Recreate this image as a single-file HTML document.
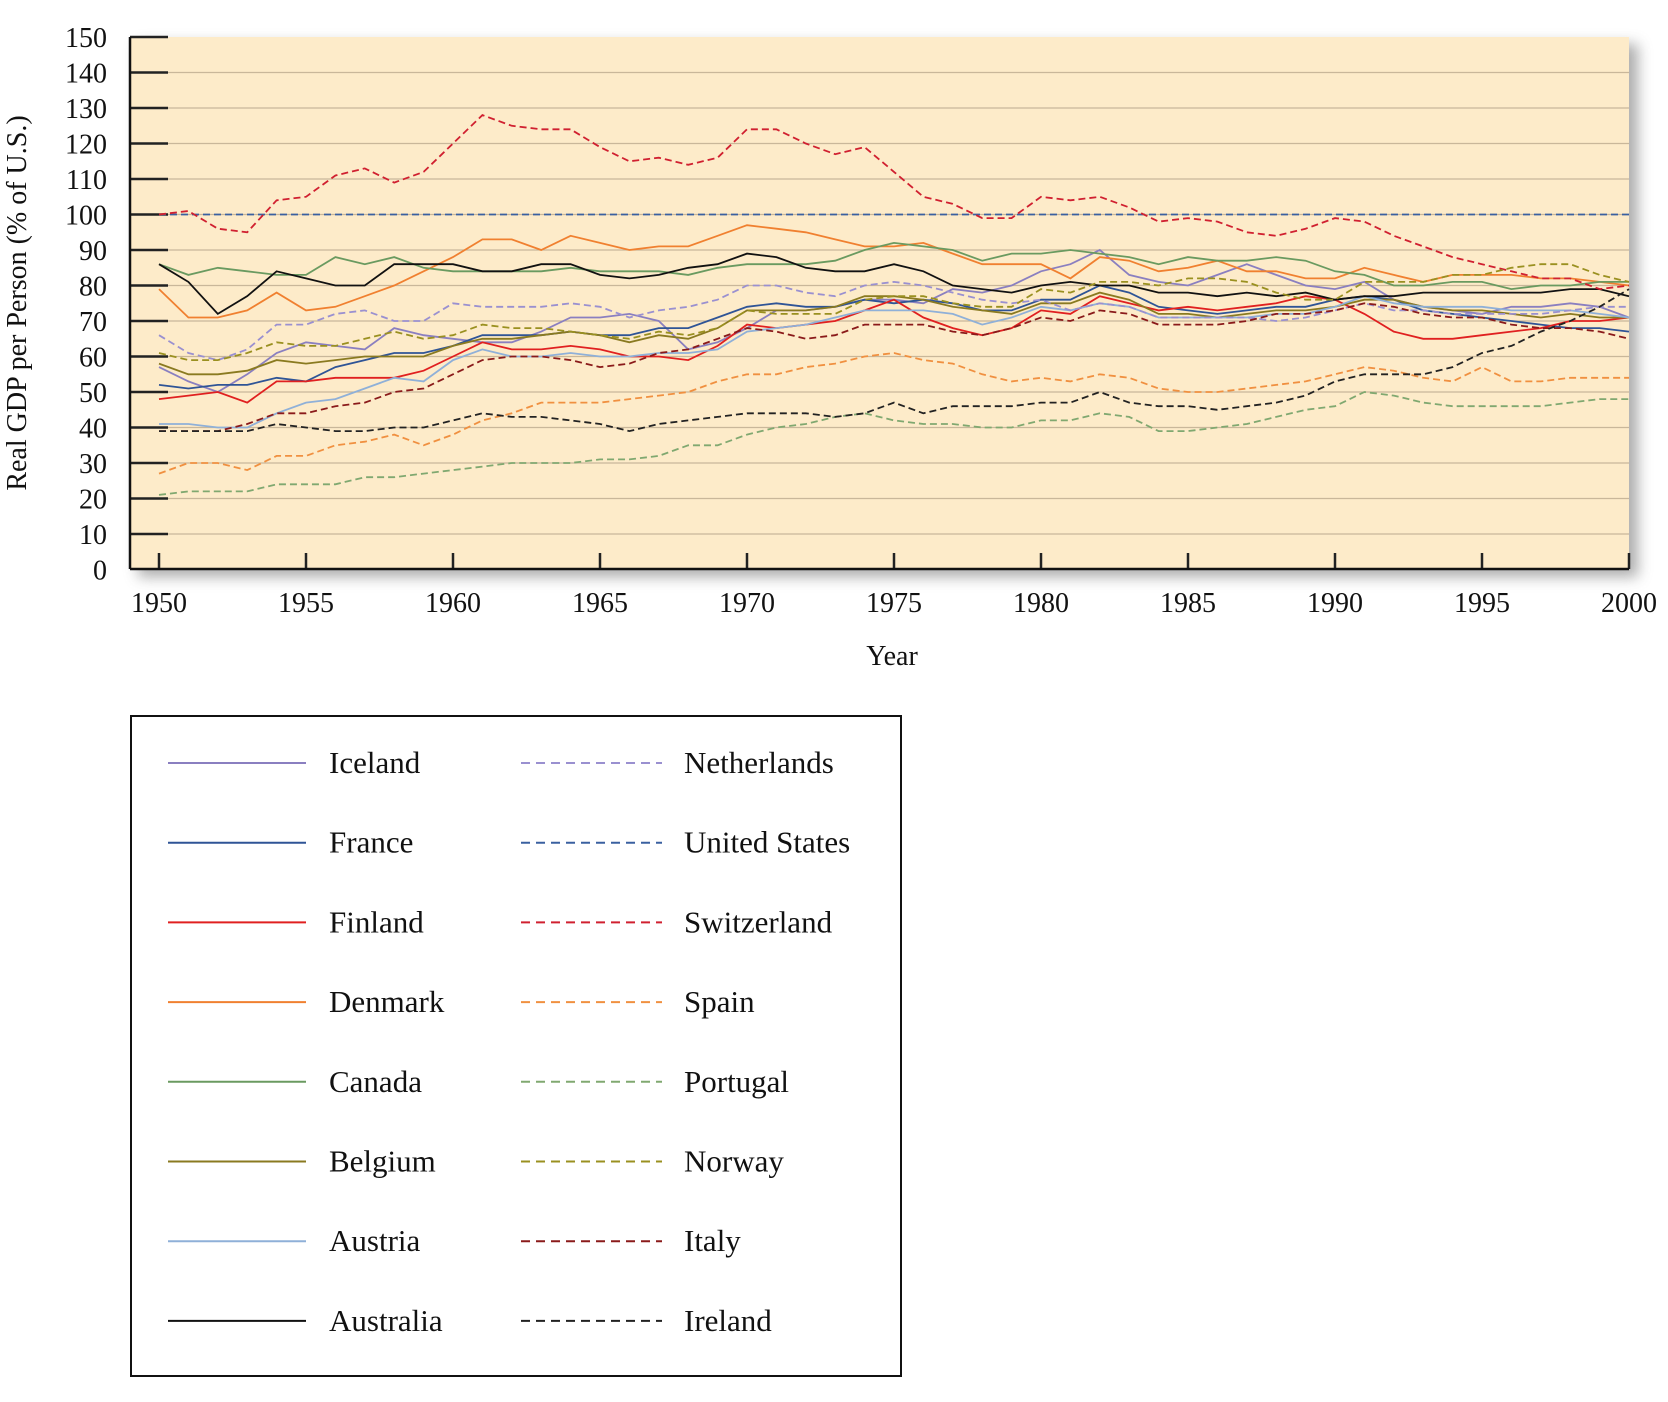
<!DOCTYPE html>
<html><head><meta charset="utf-8"><style>
html,body{margin:0;padding:0;background:#fff;}
body{width:1668px;height:1397px;overflow:hidden;}
svg text{font-family:"Liberation Serif",serif;fill:#111;}
</style></head><body>
<svg id="s" width="1668" height="1397" xmlns="http://www.w3.org/2000/svg">
<defs><filter id="sh" x="-5%" y="-5%" width="115%" height="120%"><feGaussianBlur stdDeviation="7"/></filter></defs>
<rect x="138" y="44" width="1500" height="533" fill="#777" opacity="0.6" filter="url(#sh)"/>
<rect x="130" y="37" width="1499" height="532" fill="#fdebc9"/>
<g id="grid"></g>
<g id="series"></g>
<line x1="130" y1="37" x2="130" y2="569" stroke="#111" stroke-width="2.5"/>
<line x1="130" y1="569" x2="1629" y2="569" stroke="#111" stroke-width="2.5"/>
<text transform="translate(26,303) rotate(-90)" font-size="28" text-anchor="middle">Real GDP per Person (% of U.S.)</text>
<text x="892" y="665" font-size="28" text-anchor="middle">Year</text>
<rect x="131" y="716" width="770" height="660" fill="#fff" stroke="#111" stroke-width="2"/>
<g id="leg"></g>
</svg>
<script>
const S=document.getElementById('s');
function el(t,a,p){const e=document.createElementNS('http://www.w3.org/2000/svg',t);for(const k in a)e.setAttribute(k,a[k]);(p||S).appendChild(e);return e;}
const g=document.getElementById('grid'),sg=document.getElementById('series'),lg=document.getElementById('leg');
const X=y=>159+(y-1950)*29.4, Y=v=>569.5-v*3.55;
for(let v=0;v<=150;v+=10){const y=Y(v);
 if(v>0&&v<150) el('line',{x1:130,y1:y,x2:1629,y2:y,stroke:'#c9b79a','stroke-width':1.2},g);
 if(v>0) el('line',{x1:130,y1:y,x2:168,y2:y,stroke:'#222','stroke-width':2.5},g);
 const t=el('text',{x:107,y:y+10,'font-size':28,'text-anchor':'end'},g);t.textContent=v;}
for(let yr=1950;yr<=2000;yr+=5){const x=X(yr);
 el('line',{x1:x,y1:569,x2:x,y2:553,stroke:'#222','stroke-width':2.5},g);
 const t=el('text',{x:x,y:612,'font-size':28,'text-anchor':'middle'},g);t.textContent=yr;}
const D=[
["Iceland","#8a7fc0",0,[57,53,50,55,61,64,63,62,68,66,65,64,64,67,71,71,72,70,62,64,68,73,73,74,76,76,75,79,78,80,84,86,90,83,81,80,83,86,83,80,79,81,76,74,73,72,74,74,75,74,71]],
["France","#2f5496",0,[52,51,52,52,54,53,57,59,61,61,63,66,66,66,67,66,66,68,68,71,74,75,74,74,76,75,76,75,73,73,76,76,80,78,74,73,72,73,74,74,76,77,76,73,72,71,70,69,68,68,67]],
["Finland","#e02020",0,[48,49,50,47,53,53,54,54,54,56,60,64,62,62,63,62,60,60,59,63,69,68,69,70,73,76,71,68,66,68,73,72,77,75,73,74,73,74,75,77,76,72,67,65,65,66,67,68,70,70,71]],
["Denmark","#f08030",0,[79,71,71,73,78,73,74,77,80,84,88,93,93,90,94,92,90,91,91,94,97,96,95,93,91,91,92,89,86,86,86,82,88,87,84,85,87,84,84,82,82,85,83,81,83,83,83,82,82,81,80]],
["Canada","#6a9a60",0,[86,83,85,84,83,83,88,86,88,85,84,84,84,84,85,84,84,84,83,85,86,86,86,87,90,92,91,90,87,89,89,90,89,88,86,88,87,87,88,87,84,83,80,80,81,81,79,80,80,81,81]],
["Belgium","#8a7a20",0,[58,55,55,56,59,58,59,60,60,60,63,65,65,66,67,66,64,66,65,68,73,73,73,74,77,77,76,74,73,72,75,75,78,76,72,72,71,72,73,73,74,76,76,74,73,73,72,71,72,71,71]],
["Austria","#8fb0d8",0,[41,41,40,40,44,47,48,51,54,53,59,62,60,60,61,60,60,61,61,62,67,68,69,71,73,73,73,72,69,71,74,73,75,74,71,71,71,71,72,72,74,77,75,74,74,74,73,73,73,72,71]],
["Australia","#111111",0,[86,81,72,77,84,82,80,80,86,86,86,84,84,86,86,83,82,83,85,86,89,88,85,84,84,86,84,80,79,78,80,81,80,80,78,78,77,78,77,78,76,77,77,78,78,78,78,78,79,79,77]],
["Netherlands","#9a90d0",1,[66,61,59,62,69,69,72,73,70,70,75,74,74,74,75,74,71,73,74,76,80,80,78,77,80,81,80,78,76,75,76,73,75,74,71,71,71,71,70,71,73,75,73,73,72,72,72,72,73,74,74]],
["United States","#3a60a0",1,Array(51).fill(100)],
["Switzerland","#d02030",1,[100,101,96,95,104,105,111,113,109,112,120,128,125,124,124,119,115,116,114,116,124,124,120,117,119,112,105,103,99,99,105,104,105,102,98,99,98,95,94,96,99,98,94,91,88,86,84,82,82,79,80]],
["Spain","#f09040",1,[27,30,30,28,32,32,35,36,38,35,38,42,44,47,47,47,48,49,50,53,55,55,57,58,60,61,59,58,55,53,54,53,55,54,51,50,50,51,52,53,55,57,56,54,53,57,53,53,54,54,54]],
["Portugal","#80a870",1,[21,22,22,22,24,24,24,26,26,27,28,29,30,30,30,31,31,32,35,35,38,40,41,43,44,42,41,41,40,40,42,42,44,43,39,39,40,41,43,45,46,50,49,47,46,46,46,46,47,48,48]],
["Norway","#9a9020",1,[61,59,59,61,64,63,63,65,67,65,66,69,68,68,67,66,65,67,66,68,73,72,72,72,76,77,77,75,74,74,79,78,81,81,80,82,82,81,78,76,76,81,81,81,83,83,85,86,86,83,81]],
["Italy","#8a1a1a",1,[39,39,39,41,44,44,46,47,50,51,55,59,60,60,59,57,58,61,62,65,68,67,65,66,69,69,69,67,66,68,71,70,73,72,69,69,69,70,72,72,73,75,74,72,71,71,69,68,68,67,65]],
["Ireland","#222222",1,[39,39,39,39,41,40,39,39,40,40,42,44,43,43,42,41,39,41,42,43,44,44,44,43,44,47,44,46,46,46,47,47,50,47,46,46,45,46,47,49,53,55,55,55,57,61,63,67,70,74,79]]
];
D.forEach((s,i)=>{
 const pts=s[3].map((v,k)=>X(1950+k).toFixed(1)+','+Y(v).toFixed(1)).join(' ');
 const a={points:pts,fill:'none',stroke:s[1],'stroke-width':1.8};
 if(s[2])a['stroke-dasharray']='7,4';
 el('polyline',a,sg);
 const col=i<8?0:1,row=i%8,y=763+row*79.7;
 const x1=col?521:168,x2=col?662:306,tx=col?684:329;
 const la={x1:x1,y1:y,x2:x2,y2:y,stroke:s[1],'stroke-width':2};
 if(s[2])la['stroke-dasharray']='9,6';
 el('line',la,lg);
 const t=el('text',{x:tx,y:y+10,'font-size':31},lg);t.textContent=s[0];
});
</script>
</body></html>
